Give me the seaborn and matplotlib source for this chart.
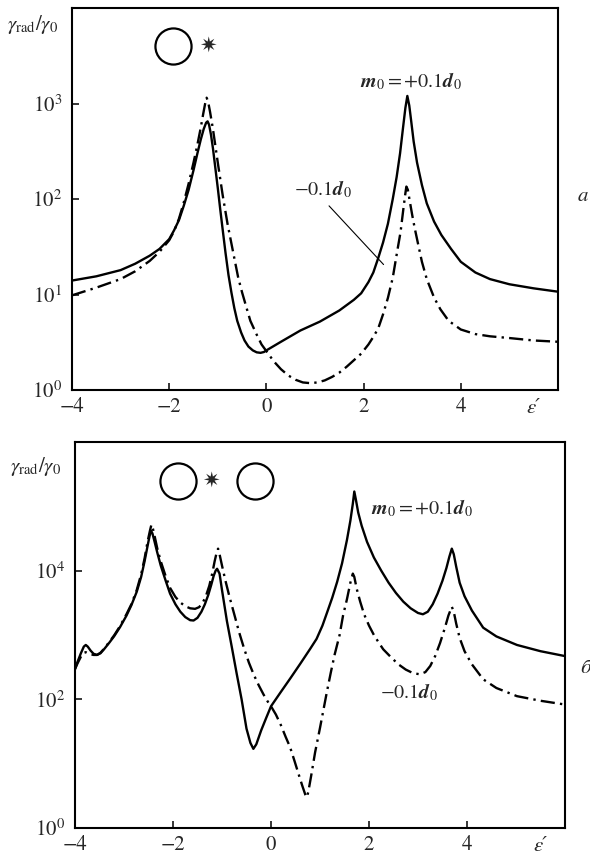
import matplotlib
matplotlib.use("Agg")
import matplotlib.pyplot as plt
import seaborn as sns

# ---- panel a: single sphere ----
a_x_plus = [-4.0, -3.5, -3.0, -2.7, -2.4, -2.2, -2.0, -1.9, -1.8, -1.7, -1.6, -1.5, -1.42,
            -1.35, -1.29, -1.24, -1.21, -1.18, -1.14, -1.1, -1.05, -1.0, -0.95, -0.9, -0.84,
            -0.78, -0.72, -0.66, -0.6, -0.52, -0.45, -0.37, -0.28, -0.2, -0.12, -0.05, 0.0,
            0.3, 0.7, 1.1, 1.5, 1.8, 1.95, 2.1, 2.2, 2.3, 2.4, 2.5, 2.6, 2.68, 2.75, 2.81,
            2.86, 2.9, 2.94, 2.98, 3.03, 3.1, 3.2, 3.3, 3.45, 3.6, 3.8, 4.0, 4.3, 4.6, 5.0,
            5.5, 6.0]
a_y_plus = [14, 15.5, 18, 21, 25.5, 30, 38, 47, 60, 85, 125, 200, 300,
            420, 540, 630, 650, 600, 470, 340, 210, 130, 78, 48, 27,
            16, 10.5, 7.2, 5.3, 4.0, 3.3, 2.85, 2.6, 2.48, 2.45, 2.5, 2.6,
            3.2, 4.2, 5.2, 6.8, 8.8, 10.3, 13.5, 17, 24, 35, 55, 100, 170, 300, 550,
            900, 1200, 950, 650, 400, 240, 140, 90, 58, 42, 30, 22, 17, 14.5, 12.8,
            11.6, 10.7]

a_x_minus = [-4.0, -3.5, -3.0, -2.7, -2.4, -2.2, -2.0, -1.9, -1.8, -1.7, -1.6, -1.5, -1.42,
             -1.35, -1.3, -1.26, -1.23, -1.2, -1.16, -1.1, -1.05, -1.0, -0.9, -0.8, -0.68,
             -0.58, -0.5, -0.4, -0.33, -0.2, -0.1, 0.0, 0.15, 0.3, 0.45, 0.6, 0.75, 0.9,
             1.05, 1.2, 1.35, 1.5, 1.65, 1.8, 1.95, 2.1, 2.2, 2.3, 2.4, 2.5, 2.6, 2.7, 2.76,
             2.82, 2.86, 2.88, 2.91, 2.95, 3.0, 3.05, 3.12, 3.2, 3.3, 3.45, 3.58, 3.75, 4.0,
             4.3, 4.6, 5.0, 5.5, 6.0]
a_y_minus = [9.8, 11.8, 14.5, 17.5, 22.5, 28, 37, 46, 62, 92, 145, 240, 370,
             560, 780, 1000, 1150, 1050, 820, 540, 360, 240, 110, 55, 27,
             15, 10.5, 7.0, 5.3, 3.8, 3.0, 2.55, 2.0, 1.65, 1.42, 1.28, 1.2, 1.18,
             1.2, 1.26, 1.37, 1.52, 1.75, 2.05, 2.4, 3.0, 3.6, 4.4, 6.2, 9.2, 15, 30, 45,
             80, 115, 135, 125, 95, 68, 50, 34, 22, 14.5, 9.3, 7.0, 5.3, 4.3,
             3.85, 3.65, 3.5, 3.3, 3.2]

# ---- panel б: sphere pair ----
b_x_plus = [-4.0, -3.95, -3.88, -3.82, -3.78, -3.74, -3.68, -3.62, -3.55, -3.48, -3.4, -3.3,
            -3.2, -3.08, -2.95, -2.85, -2.74, -2.65, -2.58, -2.52, -2.48, -2.45, -2.42, -2.38,
            -2.32, -2.25, -2.15, -2.06, -1.95, -1.85, -1.75, -1.65, -1.58, -1.5, -1.42, -1.35,
            -1.28, -1.22, -1.17, -1.13, -1.1, -1.05, -1.0, -0.9, -0.8, -0.7, -0.6, -0.5,
            -0.42, -0.36, -0.3, -0.2, -0.1, 0.0, 0.2, 0.4, 0.6, 0.8, 0.93, 1.05, 1.15, 1.25,
            1.35, 1.45, 1.55, 1.62, 1.67, 1.7, 1.73, 1.78, 1.85, 1.96, 2.1, 2.25, 2.4, 2.55,
            2.7, 2.85, 3.0, 3.1, 3.2, 3.3, 3.4, 3.5, 3.58, 3.64, 3.69, 3.73, 3.78, 3.85, 3.95,
            4.1, 4.33, 4.6, 5.02, 5.5, 6.0]
b_y_plus = [295, 380, 520, 660, 700, 660, 570, 510, 490, 520, 610, 760,
            960, 1330, 2000, 2900, 4700, 8000, 14000, 24000, 34000, 42000, 38000, 29000,
            19000, 12000, 7000, 4400, 3000, 2300, 1900, 1700, 1680, 1850, 2300, 3000,
            4200, 6000, 8300, 10000, 10700, 9000, 5000, 1650, 650, 250, 100, 35,
            21, 17, 20, 33, 51, 78, 130, 215, 360, 610, 870, 1400, 2300, 3800,
            6700, 13000, 30000, 60000, 110000, 170000, 130000, 80000, 50000, 28000, 16000, 10000, 6500, 4500,
            3300, 2600, 2200, 2100, 2300, 3000, 4400, 7000, 11000, 16500, 22000, 18000, 11500, 6500, 4000,
            2400, 1300, 950, 700, 560, 470]

b_x_minus = [-4.0, -3.95, -3.88, -3.82, -3.78, -3.74, -3.68, -3.62, -3.55, -3.48, -3.4, -3.3,
             -3.2, -3.08, -2.95, -2.85, -2.74, -2.65, -2.58, -2.52, -2.47, -2.44, -2.41, -2.37,
             -2.32, -2.25, -2.15, -2.06, -1.95, -1.85, -1.75, -1.65, -1.55, -1.47, -1.4, -1.33,
             -1.26, -1.2, -1.15, -1.11, -1.08, -1.05, -1.0, -0.93, -0.85, -0.75, -0.65, -0.55,
             -0.45, -0.35, -0.25, -0.15, -0.05, 0.0, 0.1, 0.2, 0.3, 0.39, 0.48, 0.56, 0.64,
             0.7, 0.73, 0.76, 0.82, 0.9, 1.0, 1.14, 1.22, 1.3, 1.4, 1.47, 1.55, 1.62, 1.67,
             1.7, 1.75, 1.82, 1.9, 2.0, 2.1, 2.2, 2.29, 2.45, 2.6, 2.75, 2.9, 3.04, 3.15, 3.25,
             3.35, 3.45, 3.55, 3.62, 3.69, 3.73, 3.78, 3.85, 3.95, 4.1, 4.33, 4.6, 5.02, 5.5, 6.0]
b_y_minus = [295, 360, 460, 530, 540, 520, 500, 490, 490, 530, 620, 780,
             990, 1380, 2100, 3000, 5000, 8800, 15500, 28000, 42000, 52000, 45000, 33000,
             22000, 14000, 8200, 5400, 3900, 3200, 2800, 2600, 2550, 2700, 3100, 4000,
             5800, 9000, 14000, 19000, 22000, 18000, 12000, 7000, 4000, 2100, 1100, 620,
             370, 240, 165, 118, 88, 78, 58, 40, 26, 18, 11, 7, 4.5,
             3.3, 3.0, 3.6, 6.5, 15, 36, 130, 260, 500, 1000, 2000, 3600, 6500, 9000,
             8000, 5200, 3300, 2100, 1400, 1000, 760, 600, 450, 350, 290, 255, 245, 265, 330,
             470, 750, 1300, 2000, 2750, 2300, 1500, 900, 560, 350, 205, 150, 112, 95, 83]

x_ticks = [-4, -2, 0, 2, 4]
x_tick_labels = ["\u22124", "\u22122", "0", "2", "4"]
a_y_ticks = [1, 10, 100, 1000]
a_y_tick_labels = ["$10^{0}$", "$10^{1}$", "$10^{2}$", "$10^{3}$"]
b_y_ticks = [1, 100, 10000]
b_y_tick_labels = ["$10^{0}$", "$10^{2}$", "$10^{4}$"]

sns.set_style("ticks")
plt.rcParams["font.family"] = ["STIXGeneral", "DejaVu Serif"]
plt.rcParams["mathtext.fontset"] = "stix"

W, H = 590, 858
fig = plt.figure(figsize=(W / 100, H / 100), dpi=100)


def px_axes(l, t, r, b):
    return fig.add_axes([l / W, 1 - b / H, (r - l) / W, (b - t) / H])


ax_a = px_axes(72, 8, 558, 390)
ax_b = px_axes(75, 442, 565, 828)

DASHDOT = (0, (6, 2.2, 1, 2.2))
LW = 1.7

panels = [
    (ax_a, a_x_plus, a_y_plus, a_x_minus, a_y_minus, (1, 1e4), a_y_ticks, a_y_tick_labels),
    (ax_b, b_x_plus, b_y_plus, b_x_minus, b_y_minus, (1, 1e6), b_y_ticks, b_y_tick_labels),
]

for ax, xp, yp, xm, ym, ylim, yt, ytl in panels:
    sns.lineplot(x=xp, y=yp, ax=ax, color="black", linewidth=LW)
    sns.lineplot(x=xm, y=ym, ax=ax, color="black", linewidth=LW, linestyle=DASHDOT)
    ax.set_yscale("log")
    ax.set_xlim(-4, 6)
    ax.set_ylim(*ylim)
    ax.set_xticks(x_ticks)
    ax.set_xticklabels(x_tick_labels)
    ax.set_yticks(yt)
    ax.set_yticklabels(ytl)
    ax.minorticks_off()
    ax.tick_params(direction="in", length=5, width=1.3, labelsize=15, pad=5)
    ax.tick_params(axis="y", pad=7)
    for s in ax.spines.values():
        s.set_linewidth(1.5)
        s.set_color("black")
    ax.set_xlabel("")
    ax.set_ylabel("")
    # epsilon' label in place of the last x tick label
    ax.text(5.5, -0.022, "\u03b5\u2032", transform=ax.get_xaxis_transform(),
            ha="center", va="top", fontsize=15, style="italic")

# sphere / emitter icons
ax_a.plot([0.208], [0.90], marker="o", ms=26, mfc="none", mec="black", mew=1.6,
          transform=ax_a.transAxes, clip_on=False)
ax_b.plot([0.21, 0.367], [0.899, 0.899], marker="o", ms=26, mfc="none", mec="black",
          mew=1.6, ls="none", transform=ax_b.transAxes, clip_on=False)
star = dict(ha="center", va="center", fontsize=15, family="DejaVu Sans")
ax_a.text(0.28, 0.90, "\u2737", transform=ax_a.transAxes, **star)
ax_b.text(0.278, 0.899, "\u2737", transform=ax_b.transAxes, **star)

# curve labels
lab_plus = r"$\mathbfit{m}_0 = +0.1\mathbfit{d}_0$"
lab_minus = r"$-0.1\mathbfit{d}_0$"
ax_a.text(2.98, 1700, lab_plus, ha="center", va="center", fontsize=14.5)
ax_a.text(1.17, 127, lab_minus, ha="center", va="center", fontsize=14.5)
ax_a.annotate("", xy=(2.45, 19.6), xytext=(1.25, 89),
              arrowprops=dict(arrowstyle="-", lw=0.8, color="black"))
ax_b.text(3.08, 93000, lab_plus, ha="center", va="center", fontsize=14.5)
ax_b.text(2.82, 129, lab_minus, ha="center", va="center", fontsize=14.5)

# y labels and panel letters
ylab = r"$\gamma_{\rm rad}/\gamma_0$"
fig.text(7 / W, 1 - 25 / H, ylab, ha="left", va="center", fontsize=15)
fig.text(10 / W, 1 - 466 / H, ylab, ha="left", va="center", fontsize=15)
fig.text(578 / W, 1 - 196 / H, "a", ha="left", va="center", fontsize=15, style="italic")
fig.text(580 / W, 1 - 668 / H, "б", ha="left", va="center", fontsize=15, style="italic")

fig.savefig("out.png", dpi=100, facecolor="white")
